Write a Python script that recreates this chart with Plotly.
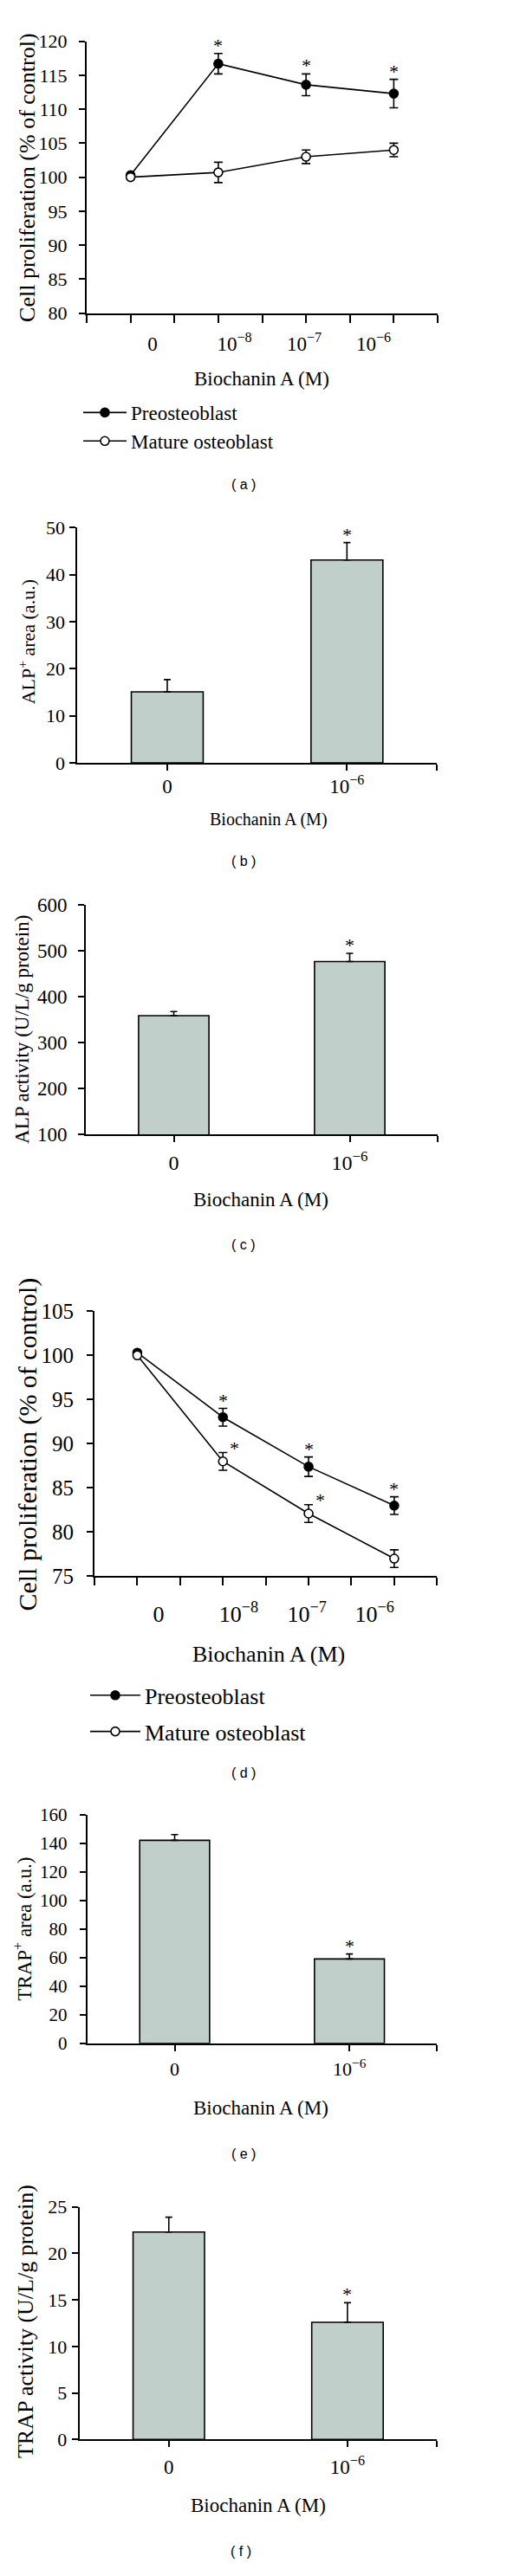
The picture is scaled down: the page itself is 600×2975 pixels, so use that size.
import plotly.graph_objects as go

W, H = 600, 2975
SERIF = "Liberation Serif"
SANS = "Liberation Sans"
BAR_COLOR = "#c1cfcb"

# ---------------- data ----------------
line_x = [1, 3, 5, 7]
conc_labels = ["0", "10<sup>−8</sup>", "10<sup>−7</sup>", "10<sup>−6</sup>"]
conc_label_pos = [1.5, 3.37, 4.96, 6.54]
series_names = ["Preosteoblast", "Mature osteoblast"]

a_pre = [100.3, 116.7, 113.6, 112.3]
a_pre_err = [0, 1.5, 1.6, 2.1]
a_mat = [100.0, 100.7, 103.0, 104.0]
a_mat_err = [0, 1.5, 1.0, 1.0]
a_pre_sig = [False, True, True, True]

d_pre = [100.3, 93.0, 87.4, 83.0]
d_pre_err = [0, 1.0, 1.1, 1.0]
d_mat = [100.0, 88.0, 82.1, 77.0]
d_mat_err = [0, 1.0, 1.0, 1.0]
d_pre_sig = [False, True, True, True]
d_mat_sig = [False, True, True, False]

bar_x = [0, 1]
bar_labels = ["0", "10<sup>−6</sup>"]
b_vals, b_err, b_sig = [15.1, 43.1], [2.6, 3.7], [False, True]
c_vals, c_err, c_sig = [359, 477], [9, 18], [False, True]
e_vals, e_err, e_sig = [142, 59], [4, 3.5], [False, True]
f_vals, f_err, f_sig = [22.3, 12.6], [1.6, 2.1], [False, True]

x_title = "Biochanin A (M)"

# pixel geometry: plot box, y range, tick font, y-label standoff, x-label standoff
panels = {
    "a": dict(x0=100, x1=505, yt=35, yb=351.7, yr=[80, 120], dt=5, tf=22, so=9, xso=14),
    "b": dict(x0=89.3, x1=504, yt=601.7, yb=876, yr=[0, 50], dt=10, tf=22, so=1, xso=-2),
    "c": dict(x0=99, x1=505, yt=1041.7, yb=1309.3, yr=[100, 600], dt=100, tf=23, so=8, xso=3),
    "d": dict(x0=109, x1=504.3, yt=1515, yb=1824, yr=[75, 105], dt=5, tf=25, so=10, xso=19),
    "e": dict(x0=100.7, x1=504, yt=2101.7, yb=2368.3, yr=[0, 160], dt=20, tf=21, so=10, xso=2),
    "f": dict(x0=91.7, x1=504, yt=2559, yb=2830, yr=[0, 25], dt=5, tf=22, so=1, xso=3),
}
order = ["a", "b", "c", "d", "e", "f"]

def px(p):
    return p / W

def py(p):
    return 1 - p / H

fig = go.Figure()
layout = dict(width=W, height=H, margin=dict(l=0, r=0, t=0, b=0),
              paper_bgcolor="white", plot_bgcolor="white", showlegend=True)
annotations = []

for i, key in enumerate(order, start=1):
    p = panels[key]
    xa = "xaxis" if i == 1 else f"xaxis{i}"
    ya = "yaxis" if i == 1 else f"yaxis{i}"
    xr = "x" if i == 1 else f"x{i}"
    yr_ = "y" if i == 1 else f"y{i}"
    p["xref"], p["yref"] = xr, yr_
    layout[ya] = dict(domain=[py(p["yb"]), py(p["yt"])], range=p["yr"], dtick=p["dt"],
                      tick0=p["yr"][0], anchor=xr, showline=True, linecolor="black",
                      linewidth=2, ticks="outside", ticklen=7, tickwidth=2,
                      tickcolor="black", showgrid=False, zeroline=False,
                      ticklabelstandoff=p["so"],
                      tickfont=dict(family=SERIF, size=p["tf"], color="black"))
    if key in ("a", "d"):
        layout[xa] = dict(domain=[px(p["x0"]), px(p["x1"])], range=[0, 8], anchor=yr_,
                          tickmode="array", tickvals=conc_label_pos, ticktext=conc_labels,
                          ticks="", ticklabelstandoff=p["xso"],
                          showline=True, linecolor="black", linewidth=2,
                          showgrid=False, zeroline=False,
                          minor=dict(tickmode="array", tickvals=list(range(9)),
                                     ticks="outside", ticklen=9, tickwidth=2,
                                     tickcolor="black", showgrid=False),
                          tickfont=dict(family=SERIF, size=p["tf"] + 1, color="black"))
    else:
        layout[xa] = dict(domain=[px(p["x0"]), px(p["x1"])], range=[-0.5, 1.5], anchor=yr_,
                          tickmode="array", tickvals=bar_x, ticktext=bar_labels,
                          ticks="outside", ticklen=7, tickwidth=2, tickcolor="black",
                          ticklabelstandoff=p["xso"],
                          minor=dict(tickmode="array", tickvals=[1.5], ticks="outside",
                                     ticklen=7, tickwidth=2, tickcolor="black",
                                     showgrid=False),
                          showline=True, linecolor="black", linewidth=2,
                          showgrid=False, zeroline=False,
                          tickfont=dict(family=SERIF, size=p["tf"] + 1, color="black"))

def add_lines(key, pre, pre_err, mat, mat_err, legend_name, msize):
    p = panels[key]
    for name, ys, es, fill, grp in ((series_names[0], pre, pre_err, "black", "pre"),
                                    (series_names[1], mat, mat_err, "white", "mat")):
        fig.add_trace(go.Scatter(
            x=line_x, y=ys, mode="lines+markers", name=name,
            legendgroup=f"{key}_{grp}",
            xaxis=p["xref"], yaxis=p["yref"], legend=legend_name, cliponaxis=False,
            line=dict(color="black", width=1.6),
            marker=dict(symbol="circle", size=msize, color=fill,
                        line=dict(color="black", width=1.6)),
            error_y=dict(type="data", array=es, visible=True, color="black",
                         thickness=1.6, width=5)))

add_lines("a", a_pre, a_pre_err, a_mat, a_mat_err, "legend", 10)
add_lines("d", d_pre, d_pre_err, d_mat, d_mat_err, "legend2", 10)

for key, vals, errs in (("b", b_vals, b_err), ("c", c_vals, c_err),
                        ("e", e_vals, e_err), ("f", f_vals, f_err)):
    p = panels[key]
    fig.add_trace(go.Bar(
        x=bar_x, y=vals, width=0.4, showlegend=False,
        xaxis=p["xref"], yaxis=p["yref"],
        marker=dict(color=BAR_COLOR, line=dict(color="black", width=1.6)),
        error_y=dict(type="data", array=errs, arrayminus=[0] * len(errs),
                     symmetric=False, color="black", thickness=1.6, width=4)))

def star(key, x, y, xshift=0, yshift=-5):
    p = panels[key]
    annotations.append(dict(x=x, y=y, xref=p["xref"], yref=p["yref"], text="*",
                            showarrow=False, xanchor="center", yanchor="bottom",
                            xshift=xshift, yshift=yshift,
                            font=dict(family=SERIF, size=22, color="black")))

for x, v, e, s in zip(line_x, a_pre, a_pre_err, a_pre_sig):
    if s:
        star("a", x, v + e)
for x, v, e, s in zip(line_x, d_pre, d_pre_err, d_pre_sig):
    if s:
        star("d", x, v + e)
for x, v, e, s in zip(line_x, d_mat, d_mat_err, d_mat_sig):
    if s:
        star("d", x, v + e, xshift=13, yshift=-9)
for key, vals, errs, sig in (("b", b_vals, b_err, b_sig), ("c", c_vals, c_err, c_sig),
                             ("e", e_vals, e_err, e_sig), ("f", f_vals, f_err, f_sig)):
    for x, v, e, s in zip(bar_x, vals, errs, sig):
        if s:
            star(key, x, v + e)

y_titles = {
    "a": ("Cell proliferation (% of control)", 31.7, 194, 26),
    "b": ("ALP<sup>+</sup> area (a.u.)", 31, 735, 22),
    "c": ("ALP activity (U/L/g protein)", 26, 1186.7, 23),
    "d": ("Cell proliferation (% of control)", 31.7, 1670, 30),
    "e": ("TRAP<sup>+</sup> area (a.u.)", 27, 2235, 23),
    "f": ("TRAP activity (U/L/g protein)", 29.5, 2693, 26),
}
for key, (t, xx, yy, fs) in y_titles.items():
    annotations.append(dict(x=px(xx), y=py(yy), xref="paper", yref="paper", text=t,
                            textangle=-90, showarrow=False, xanchor="center",
                            yanchor="middle", font=dict(family=SERIF, size=fs, color="black")))

x_titles = {
    "a": (301.7, 428.3, 23), "b": (310, 941.7, 20), "c": (301, 1385, 23),
    "d": (310, 1915, 26), "e": (301, 2443.3, 23), "f": (298.3, 2906.7, 23),
}
for key, (xx, yy, fs) in x_titles.items():
    annotations.append(dict(x=px(xx), y=py(yy), xref="paper", yref="paper", text=x_title,
                            showarrow=False, xanchor="center", yanchor="middle",
                            font=dict(family=SERIF, size=fs, color="black")))

panel_tags = {"a": (281, 551.7), "b": (281, 990), "c": (281, 1437.3),
              "d": (281, 2053), "e": (281, 2496.7), "f": (278.3, 2960)}
for key, (xx, yy) in panel_tags.items():
    annotations.append(dict(x=px(xx), y=py(yy), xref="paper", yref="paper",
                            text=f"( {key} )", showarrow=False, xanchor="center",
                            yanchor="middle", font=dict(family=SANS, size=16, color="black")))

layout["annotations"] = annotations
layout["legend"] = dict(x=px(91), y=py(446), xanchor="left", yanchor="top",
                        itemwidth=50, tracegroupgap=0, bgcolor="rgba(0,0,0,0)",
                        font=dict(family=SERIF, size=23, color="black"))
layout["legend2"] = dict(x=px(99), y=py(1939), xanchor="left", yanchor="top",
                         itemwidth=58, tracegroupgap=5, bgcolor="rgba(0,0,0,0)",
                         font=dict(family=SERIF, size=26, color="black"))

fig.update_layout(**layout)
fig.write_html("out.html", config={"displayModeBar": False},
               post_script="document.body.style.margin='0';")
